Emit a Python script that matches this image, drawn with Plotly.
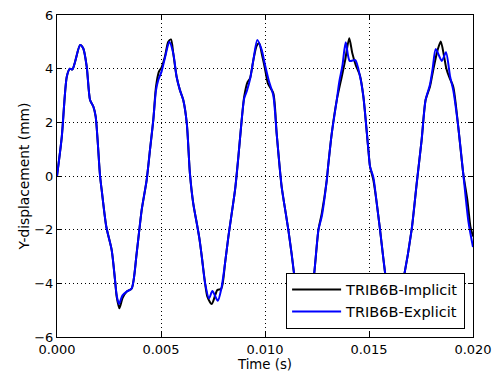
import plotly.graph_objects as go

# Time history of the Y-displacement for the two solver runs
t_implicit = [0.0, 0.00023, 0.00047, 0.00062, 0.00074, 0.00087, 0.00111, 0.00126, 0.00143, 0.00159,
              0.00175, 0.00186, 0.00207, 0.00216, 0.00237, 0.00263, 0.00279, 0.00287, 0.00300, 0.00315,
              0.00335, 0.00359, 0.00383, 0.00407, 0.00431, 0.00447, 0.00463, 0.00476, 0.00490, 0.00503,
              0.00519, 0.00535, 0.00548, 0.00559, 0.00575, 0.00591, 0.00607, 0.00624, 0.00639, 0.00655,
              0.00672, 0.00684, 0.00696, 0.00712, 0.00723, 0.00744, 0.00771, 0.00790, 0.00808, 0.00824,
              0.00840, 0.00856, 0.00872, 0.00888, 0.00900, 0.00916, 0.00928, 0.00944, 0.00960, 0.00972,
              0.00986, 0.01000, 0.01014, 0.01040, 0.01056, 0.01080, 0.01100, 0.01112, 0.01128, 0.01144,
              0.01165, 0.01189, 0.01212, 0.01233, 0.01257, 0.01273, 0.01297, 0.01304, 0.01321, 0.01345,
              0.01369, 0.01385, 0.01405, 0.01420, 0.01436, 0.01457, 0.01473, 0.01497, 0.01505, 0.01521,
              0.01537, 0.01553, 0.01582, 0.01600, 0.01623, 0.01645, 0.01665, 0.01705, 0.01729, 0.01753,
              0.01772, 0.01793, 0.01810, 0.01830, 0.01845, 0.01860, 0.01872, 0.01886, 0.01905, 0.01929,
              0.01953, 0.01973, 0.01988, 0.02000]
y_implicit = [0.0, 1.46, 3.70, 4.00, 3.97, 4.26, 4.88, 4.76, 4.07, 2.83,
              2.58, 2.21, 0.0, -0.6, -1.89, -2.76, -3.88, -4.5, -4.93, -4.55,
              -4.31, -4.19, -2.88, -1.27, -0.15, 0.97, 2.09, 3.33, 3.89, 4.05,
              4.45, 5.0, 5.09, 4.57, 3.70, 3.2, 2.83, 1.96, 0.1, -1.02,
              -1.76, -2.3, -3.0, -4.0, -4.5, -4.77, -4.25, -4.2, -3.25, -2.26,
              -1.39, -0.52, 0.72, 2.09, 2.96, 3.5, 3.64, 4.32, 4.85, 4.95,
              4.5, 4.0, 3.45, 3.08, 1.59, -0.4, -1.4, -2.0, -2.9, -3.88,
              -4.7, -4.9, -4.7, -3.88, -2.0, -1.39, -0.15, 0.4, 1.59, 2.83,
              3.7, 4.3, 5.13, 4.57, 4.14, 3.73, 2.96, 0.97, 0.35, -0.15,
              -1.0, -2.0, -3.88, -4.6, -4.9, -4.6, -3.88, -2.0, -0.3, 1.34,
              2.83, 3.33, 4.0, 4.7, 5.01, 4.5, 4.0, 3.68, 3.33, 1.84,
              0.1, -0.9, -1.9, -2.25]

t_explicit = [0.0, 0.00023, 0.00047, 0.00062, 0.00074, 0.00087, 0.00111, 0.00126, 0.00143, 0.00159,
              0.00175, 0.00186, 0.00207, 0.00216, 0.00237, 0.00263, 0.00279, 0.00287, 0.00298, 0.00315,
              0.00335, 0.00359, 0.00383, 0.00407, 0.00431, 0.00447, 0.00463, 0.00476, 0.00487, 0.00503,
              0.00519, 0.00540, 0.00559, 0.00575, 0.00591, 0.00607, 0.00624, 0.00639, 0.00655, 0.00672,
              0.00684, 0.00696, 0.00712, 0.00731, 0.00747, 0.00773, 0.00790, 0.00808, 0.00824, 0.00840,
              0.00856, 0.00872, 0.00888, 0.00900, 0.00912, 0.00928, 0.00944, 0.00963, 0.00984, 0.01000,
              0.01019, 0.01040, 0.01056, 0.01080, 0.01100, 0.01112, 0.01128, 0.01144, 0.01165, 0.01189,
              0.01212, 0.01233, 0.01257, 0.01273, 0.01297, 0.01304, 0.01321, 0.01345, 0.01357, 0.01372,
              0.01388, 0.01407, 0.01434, 0.01457, 0.01473, 0.01497, 0.01505, 0.01521, 0.01537, 0.01553,
              0.01582, 0.01600, 0.01623, 0.01645, 0.01665, 0.01705, 0.01729, 0.01753, 0.01772, 0.01793,
              0.01806, 0.01821, 0.01850, 0.01870, 0.01890, 0.01905, 0.01929, 0.01953, 0.01978, 0.02000]
y_explicit = [0.0, 1.46, 3.70, 4.00, 3.97, 4.26, 4.88, 4.76, 4.07, 2.83,
              2.58, 2.21, 0.0, -0.6, -1.89, -2.76, -3.88, -4.45, -4.77, -4.45,
              -4.31, -4.19, -2.88, -1.27, -0.15, 0.97, 2.09, 3.2, 3.58, 3.9,
              4.4, 5.0, 4.57, 3.70, 3.2, 2.83, 1.96, 0.1, -1.02, -1.76,
              -2.3, -3.0, -4.0, -4.56, -4.29, -4.65, -4.2, -3.25, -2.26, -1.39,
              -0.52, 0.72, 2.09, 2.9, 3.15, 3.6, 4.32, 5.07, 4.7, 4.14,
              3.53, 3.0, 1.59, -0.4, -1.4, -2.0, -2.9, -3.88, -4.7, -4.9,
              -4.7, -3.88, -2.0, -1.5, -0.15, 0.4, 1.59, 2.83, 3.51, 4.1,
              4.98, 4.29, 4.32, 3.7, 2.96, 0.97, 0.35, -0.05, -1.0, -2.0,
              -3.88, -4.6, -4.9, -4.6, -3.88, -2.0, -0.3, 1.34, 2.83, 3.4,
              4.0, 4.73, 4.29, 4.61, 3.7, 3.2, 1.84, 0.1, -1.7, -2.65]

x_ticks = [0.0, 0.005, 0.010, 0.015, 0.020]
x_tick_labels = ["0.000", "0.005", "0.010", "0.015", "0.020"]
y_ticks = [-6, -4, -2, 0, 2, 4, 6]

FONT = "DejaVu Sans"

fig = go.Figure()
fig.add_trace(go.Scatter(x=t_implicit, y=y_implicit, mode="lines", name="TRIB6B-Implicit",
                         line=dict(color="black", width=2, shape="spline", smoothing=0.7)))
fig.add_trace(go.Scatter(x=t_explicit, y=y_explicit, mode="lines", name="TRIB6B-Explicit",
                         line=dict(color="#0000ff", width=2, shape="spline", smoothing=0.7)))

axis_common = dict(
    showline=True, linecolor="black", linewidth=1, mirror="allticks",
    ticks="inside", ticklen=5, tickwidth=1, tickcolor="black",
    showgrid=True, gridcolor="black", gridwidth=0.8, griddash="1px,3px",
    zeroline=False, tickfont=dict(family=FONT, size=13, color="black"),
)

fig.update_xaxes(range=[0, 0.02], tickvals=x_ticks, ticktext=x_tick_labels,
                 title=dict(text="Time (s)", font=dict(family=FONT, size=13.3, color="black"), standoff=4),
                 **axis_common)
fig.update_yaxes(range=[-6, 6], tickvals=y_ticks,
                 title=dict(text="Y-displacement (mm)", font=dict(family=FONT, size=13.8, color="black"), standoff=1),
                 **axis_common)

fig.update_layout(
    width=494, height=373,
    margin=dict(l=57, r=21, t=15, b=36, autoexpand=False),
    paper_bgcolor="white", plot_bgcolor="white",
    font=dict(family=FONT, color="black"),
    showlegend=True,
    legend=dict(x=0.981, xanchor="right", y=0.026, yanchor="bottom",
                bgcolor="white", bordercolor="black", borderwidth=1, itemwidth=49,
                font=dict(family=FONT, size=14.5, color="black")),
)

fig.write_html("out.html")
